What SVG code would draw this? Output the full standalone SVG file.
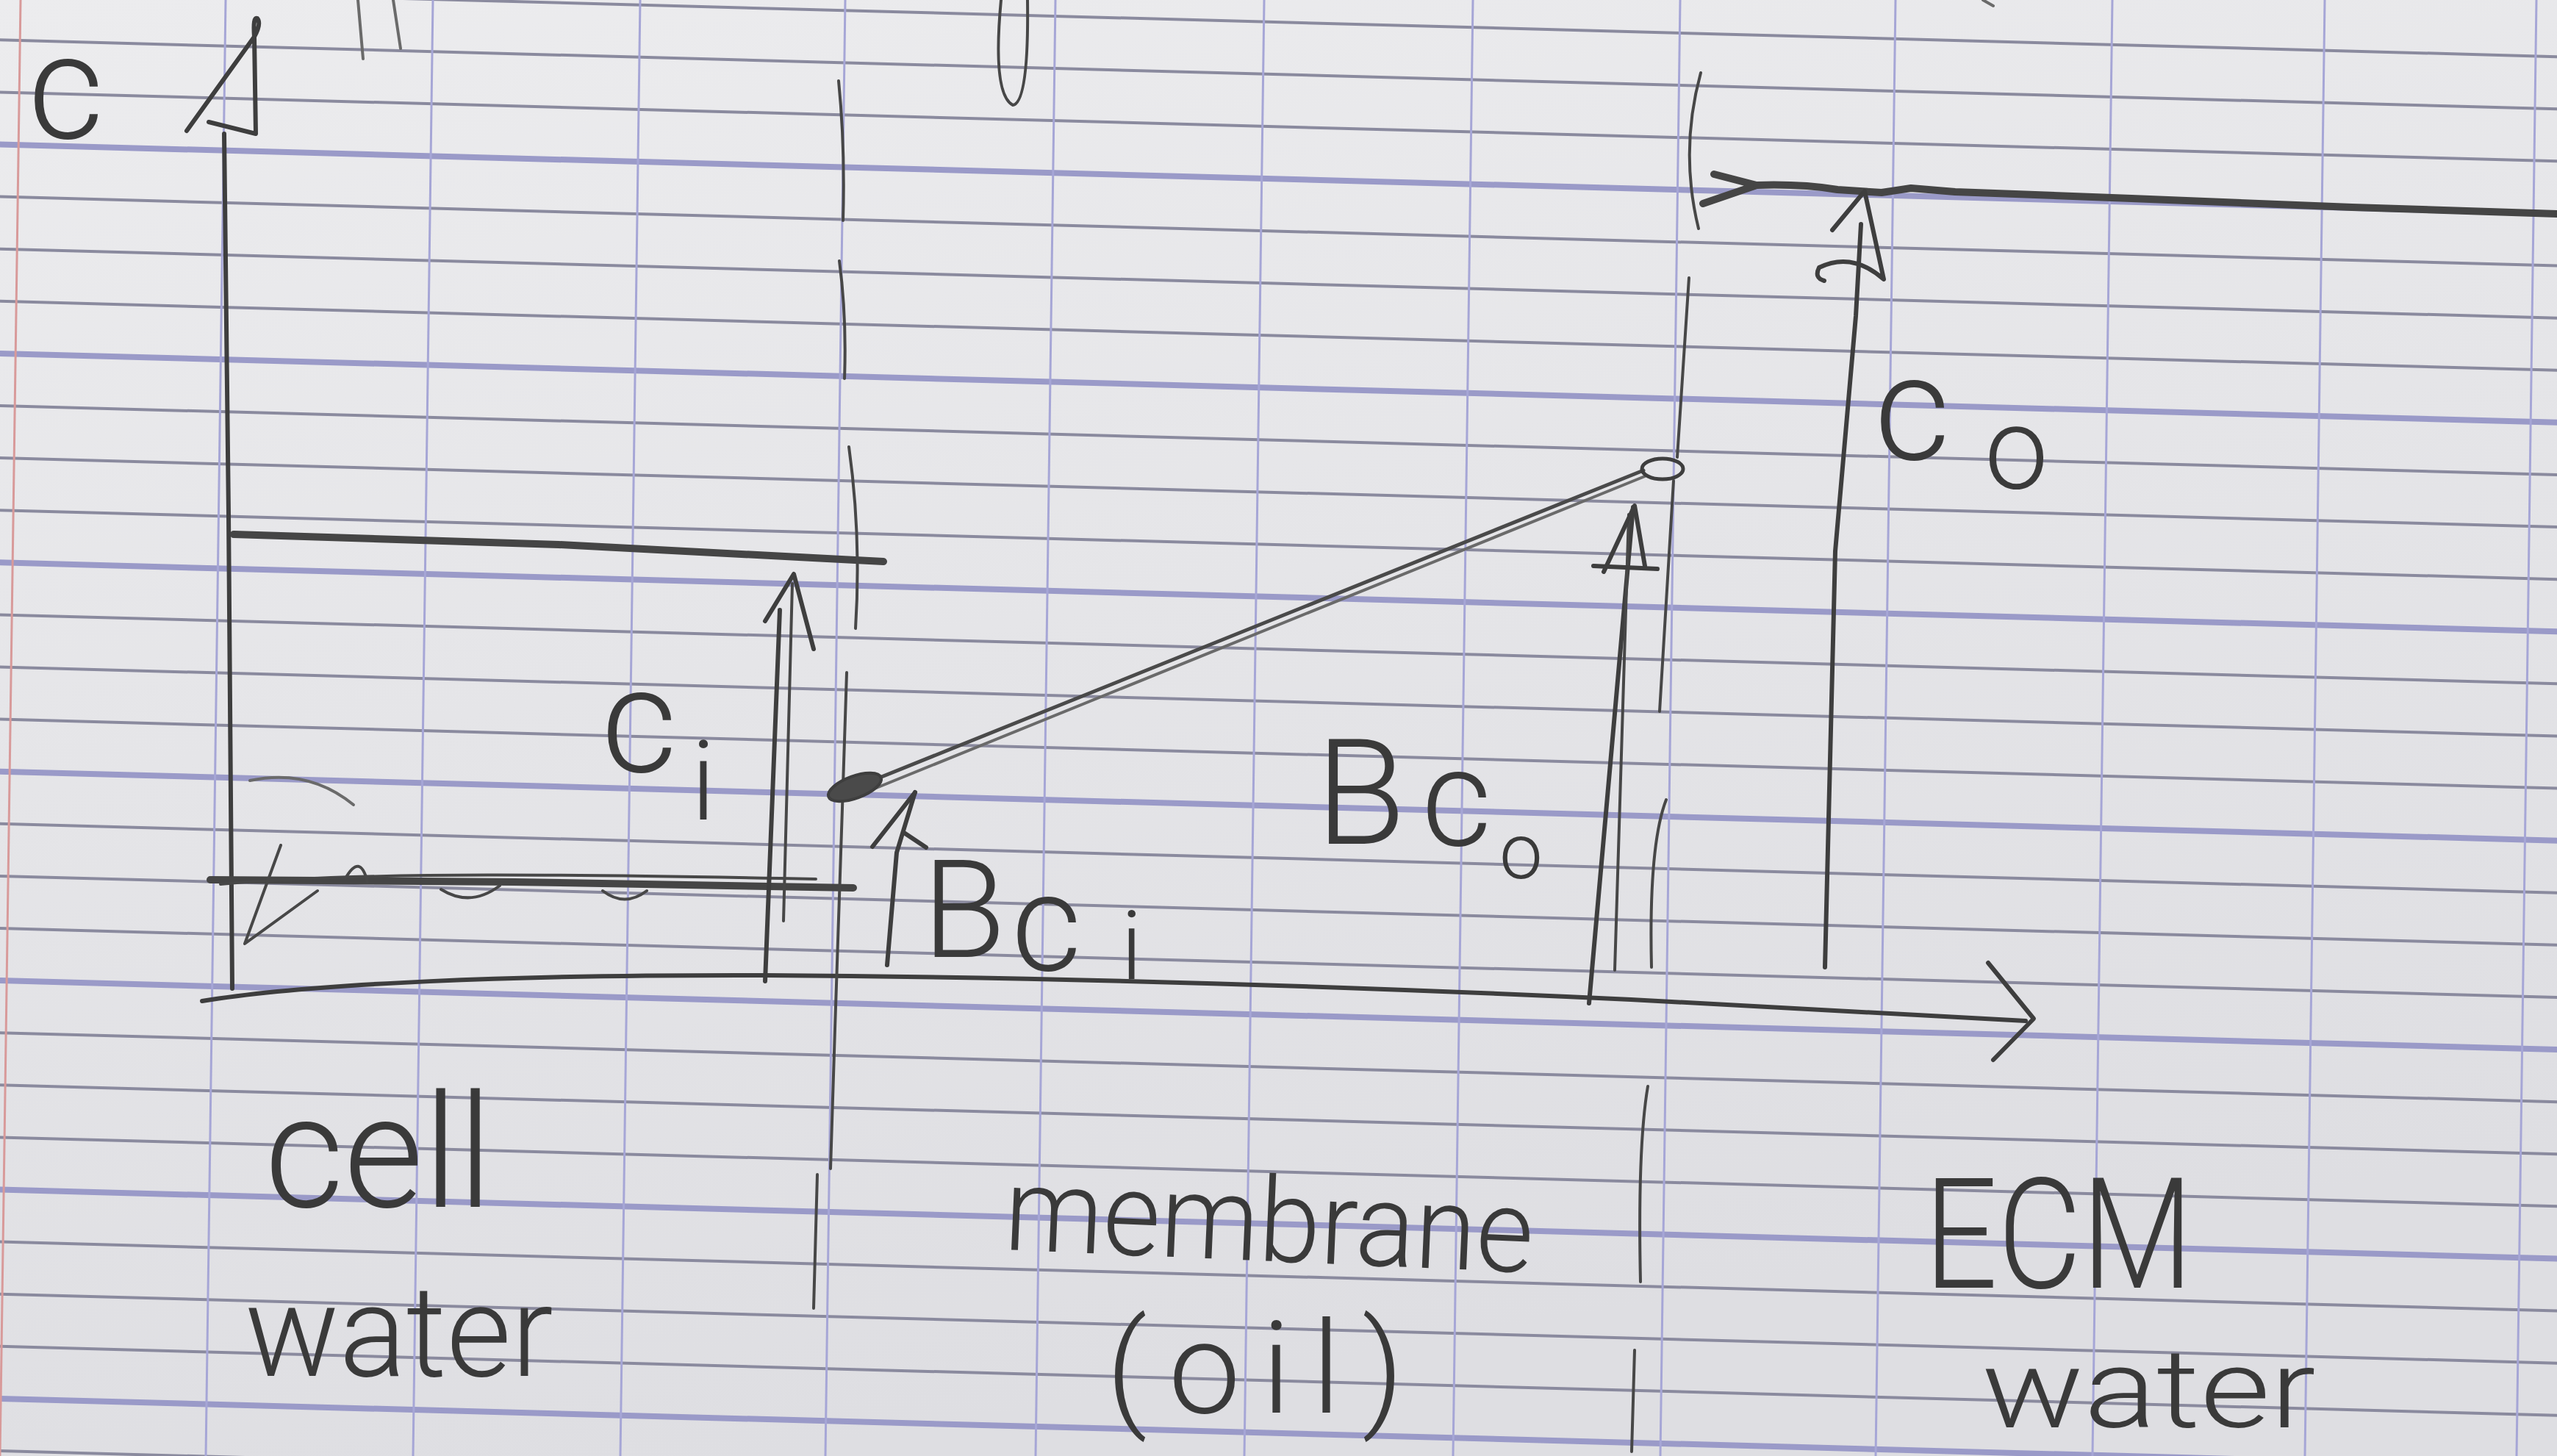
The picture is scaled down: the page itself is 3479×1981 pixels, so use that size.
<svg xmlns="http://www.w3.org/2000/svg" width="3479" height="1981" viewBox="0 0 3479 1981">
<defs>
<linearGradient id="paperGrad" x1="0" y1="0" x2="0.3" y2="1">
<stop offset="0" stop-color="#ececee"/>
<stop offset="1" stop-color="#dedee2"/>
</linearGradient>
<style>
.hl{stroke:#8a8a9e;stroke-width:4;fill:none}
.hk{stroke:#9a9ac8;stroke-width:8;fill:none}
.vl{stroke:#a6a6d6;stroke-width:3;fill:none}
.pen{stroke:#3e3e3e;stroke-width:6;fill:none;stroke-linecap:round;stroke-linejoin:round}
.pen-thin{stroke:#474747;stroke-width:4;fill:none;stroke-linecap:round;stroke-linejoin:round}
.pen-thick{stroke:#454545;stroke-width:10;fill:none;stroke-linecap:round;stroke-linejoin:round}
.pen-light{stroke:#6a6a6a;stroke-width:4;fill:none;stroke-linecap:round}
.hand{font-family:Roboto,"Liberation Sans",sans-serif;font-weight:300;fill:#3a3a3a}
</style>
</defs>

<g id="paper">
<rect x="0" y="0" width="3479" height="1981" fill="url(#paperGrad)"/>
<g transform="matrix(1 0.027 0 1 0 0)">
<line class="hl" x1="0" y1="-16.8" x2="3479" y2="-16.8"/>
<line class="hl" x1="0" y1="54.3" x2="3479" y2="54.3"/>
<line class="hl" x1="0" y1="125.4" x2="3479" y2="125.4"/>
<line class="hk" x1="0" y1="196.5" x2="3479" y2="196.5"/>
<line class="hl" x1="0" y1="267.6" x2="3479" y2="267.6"/>
<line class="hl" x1="0" y1="338.7" x2="3479" y2="338.7"/>
<line class="hl" x1="0" y1="409.8" x2="3479" y2="409.8"/>
<line class="hk" x1="0" y1="480.9" x2="3479" y2="480.9"/>
<line class="hl" x1="0" y1="552" x2="3479" y2="552"/>
<line class="hl" x1="0" y1="623.1" x2="3479" y2="623.1"/>
<line class="hl" x1="0" y1="694.2" x2="3479" y2="694.2"/>
<line class="hk" x1="0" y1="765.3" x2="3479" y2="765.3"/>
<line class="hl" x1="0" y1="836.4" x2="3479" y2="836.4"/>
<line class="hl" x1="0" y1="907.5" x2="3479" y2="907.5"/>
<line class="hl" x1="0" y1="978.6" x2="3479" y2="978.6"/>
<line class="hk" x1="0" y1="1049.7" x2="3479" y2="1049.7"/>
<line class="hl" x1="0" y1="1120.8" x2="3479" y2="1120.8"/>
<line class="hl" x1="0" y1="1191.9" x2="3479" y2="1191.9"/>
<line class="hl" x1="0" y1="1263" x2="3479" y2="1263"/>
<line class="hk" x1="0" y1="1334.1" x2="3479" y2="1334.1"/>
<line class="hl" x1="0" y1="1405.2" x2="3479" y2="1405.2"/>
<line class="hl" x1="0" y1="1476.3" x2="3479" y2="1476.3"/>
<line class="hl" x1="0" y1="1547.4" x2="3479" y2="1547.4"/>
<line class="hk" x1="0" y1="1618.5" x2="3479" y2="1618.5"/>
<line class="hl" x1="0" y1="1689.6" x2="3479" y2="1689.6"/>
<line class="hl" x1="0" y1="1760.7" x2="3479" y2="1760.7"/>
<line class="hl" x1="0" y1="1831.8" x2="3479" y2="1831.8"/>
<line class="hk" x1="0" y1="1902.9" x2="3479" y2="1902.9"/>
<line class="hl" x1="0" y1="1974" x2="3479" y2="1974"/>
</g>
<line class="vl" x1="307" y1="0" x2="280" y2="1981"/>
<line class="vl" x1="589" y1="0" x2="562" y2="1981"/>
<line class="vl" x1="871" y1="0" x2="844" y2="1981"/>
<line class="vl" x1="1150" y1="0" x2="1123" y2="1981"/>
<line class="vl" x1="1436" y1="0" x2="1409" y2="1981"/>
<line class="vl" x1="1720" y1="0" x2="1693" y2="1981"/>
<line class="vl" x1="2004" y1="0" x2="1977" y2="1981"/>
<line class="vl" x1="2286" y1="0" x2="2259" y2="1981"/>
<line class="vl" x1="2579" y1="0" x2="2552" y2="1981"/>
<line class="vl" x1="2874" y1="0" x2="2847" y2="1981"/>
<line class="vl" x1="3163" y1="0" x2="3136" y2="1981"/>
<line class="vl" x1="3451" y1="0" x2="3424" y2="1981"/>
<line x1="28" y1="0" x2="0" y2="1981" stroke="#d89a9a" stroke-width="3"/>
</g>

<g id="top-marks">
<path class="pen-light" d="M 487 0 L 494 80"/>
<path class="pen-light" d="M 535 0 L 545 66"/>
<path class="pen-thin" d="M 1362 0 Q 1350 128 1378 143 Q 1400 140 1398 0"/>
<path class="pen-light" d="M 2698 0 L 2712 8"/>
</g>

<g id="axes">
<path class="pen" d="M 305 182 L 311 700 L 316 1345"/>
<path class="pen" d="M 254 178 L 346 50 M 284 166 L 348 182 L 346 50 Q 344 22 350 25 Q 356 32 346 50"/>
<path class="pen" d="M 275 1362 C 420 1338 700 1326 1043 1327 C 1500 1330 1900 1345 2219 1360 L 2756 1389"/>
<path class="pen" d="M 2705 1310 L 2767 1386 L 2712 1442"/>
</g>

<g id="cell">
<path class="pen-thick" d="M 318 727 L 760 741 L 1202 764"/>
<path class="pen-thick" d="M 286 1197 L 700 1200 L 1161 1208" stroke="#505050"/>
<path class="pen-thin" d="M 300 1203 C 500 1185 800 1190 1110 1196" stroke="#5a5a5a"/>
<path class="pen-thin" d="M 382 1150 L 333 1284 L 432 1212"/>
<path class="pen-thin" d="M 470 1195 Q 490 1160 500 1200 M 600 1210 Q 640 1235 680 1205 M 820 1212 Q 850 1235 880 1212" stroke="#555"/>
<path class="pen-light" d="M 340 1062 Q 420 1045 481 1095" stroke="#8a8a8a"/>
</g>

<g id="membrane">
<path class="pen-thin" d="M 1141 110 Q 1150 200 1147 300"/>
<path class="pen-thin" d="M 1142 355 Q 1152 430 1149 515"/>
<path class="pen-thin" d="M 1155 608 Q 1172 730 1164 855"/>
<path class="pen-thin" d="M 1152 915 L 1146 1100 L 1136 1400 L 1130 1590"/>
<path class="pen-thin" d="M 1112 1598 L 1107 1780"/>
<path class="pen-thin" d="M 2314 99 Q 2285 205 2311 311"/>
<path class="pen-thin" d="M 2298 378 L 2282 622"/>
<path class="pen-thin" d="M 2277 654 L 2258 968"/>
<path class="pen-thin" d="M 2267 1088 Q 2243 1150 2247 1316"/>
<path class="pen-thin" d="M 2242 1478 Q 2228 1560 2232 1744"/>
<path class="pen-thin" d="M 2224 1837 L 2220 1975"/>
</g>

<g id="ecm">
<path class="pen-thick" d="M 2332 237 L 2390 252 L 2317 277"/>
<path class="pen-thick" d="M 2390 252 Q 2450 250 2500 258 L 2560 262 L 2600 256 L 2660 261 L 2900 270 L 3200 282 L 3479 291"/>
</g>

<g id="profile">
<path d="M 1172 1068 L 2236 640" stroke="#4a4a4a" stroke-width="5" fill="none" stroke-linecap="round"/>
<path class="pen-light" d="M 1180 1077 L 2238 648" stroke="#8a8a8a" stroke-width="3"/>
<ellipse cx="1163" cy="1071" rx="38" ry="15" transform="rotate(-20 1163 1071)" fill="#4a4a4a" stroke="#3e3e3e" stroke-width="4"/>
<ellipse cx="2262" cy="638" rx="28" ry="14" fill="none" stroke="#3e3e3e" stroke-width="5"/>
</g>

<g id="connectors">
<g id="arrow-ci">
<path class="pen" d="M 1041 1335 L 1061 830"/>
<path class="pen-thin" d="M 1066 1253 L 1078 794"/>
<path class="pen" d="M 1041 845 L 1080 781 L 1107 883"/>
</g>
<g id="arrow-bci">
<path class="pen" d="M 1207 1313 L 1220 1160 L 1245 1078"/>
<path class="pen" d="M 1187 1152 L 1245 1078"/>
<path class="pen" d="M 1230 1133 L 1260 1153"/>
</g>
<g id="arrow-bco">
<path class="pen" d="M 2162 1365 L 2222 690"/>
<path class="pen-thin" d="M 2197 1320 L 2216 700"/>
<path class="pen" d="M 2182 778 L 2224 688 L 2238 770"/>
<path class="pen" d="M 2168 770 L 2255 774"/>
</g>
<g id="arrow-co">
<path class="pen" d="M 2483 1316 L 2497 750 L 2525 430 L 2532 305"/>
<path class="pen" d="M 2493 313 L 2537 260 L 2563 380 Q 2520 342 2475 364 Q 2468 378 2482 382"/>
</g>
</g>

<g id="labels">
<text class="hand" x="38" y="188" font-size="200">c</text>
<text class="hand" x="818" y="1050" font-size="200">c</text>
<text class="hand" x="940" y="1115" font-size="150">i</text>
<text class="hand" x="1255" y="1302" font-size="185">B</text>
<text class="hand" x="1376" y="1320" font-size="185">c</text>
<text class="hand" x="1525" y="1332" font-size="130">i</text>
<text class="hand" x="1790" y="1148" font-size="200">B</text>
<text class="hand" x="1934" y="1150" font-size="185">c</text>
<text class="hand" x="2040" y="1195" font-size="105">o</text>
<text class="hand" x="2550" y="625" font-size="200">c</text>
<text class="hand" x="2700" y="664" font-size="155">o</text>
<text class="hand" x="360" y="1642" font-size="215" textLength="310" lengthAdjust="spacingAndGlyphs">cell</text>
<text class="hand" x="333" y="1872" font-size="175" textLength="420" lengthAdjust="spacingAndGlyphs">water</text>
<text class="hand" x="1365" y="1700" font-size="160" textLength="720" lengthAdjust="spacingAndGlyphs" transform="rotate(2.5 1365 1700)">membrane</text>
<text class="hand" x="1505" y="1922" font-size="175" textLength="405" lengthAdjust="spacing">(oil)</text>
<text class="hand" x="2618" y="1752" font-size="210" textLength="366" lengthAdjust="spacingAndGlyphs">ECM</text>
<text class="hand" x="2696" y="1942" font-size="150" textLength="455" lengthAdjust="spacingAndGlyphs">water</text>
</g>
</svg>
